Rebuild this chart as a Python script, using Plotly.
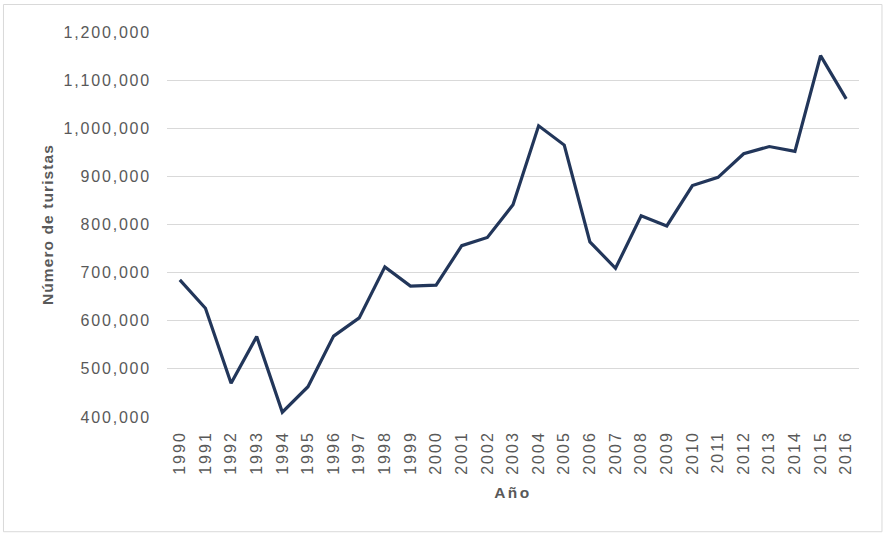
import plotly.graph_objects as go

# Annual tourist arrivals, 1990-2016
years = [str(y) for y in range(1990, 2017)]
turistas = [
    685000, 626000, 470000, 567000, 410000, 463000, 568000, 606000, 712000,
    672000, 674000, 756000, 773000, 841000, 1005000, 965000, 764000, 709000,
    818000, 797000, 881000, 898000, 947000, 962000, 952000, 1151000, 1061000,
]
y_ticks = list(range(400000, 1200001, 100000))

TEXT_GRAY = "#595959"
GRID_GRAY = "#d9d9d9"
LINE_NAVY = "#22365a"


def spaced(text, spacing):
    return f'<span style="letter-spacing:{spacing}px">{text}</span>'


fig = go.Figure()
fig.add_trace(
    go.Scatter(
        x=years,
        y=turistas,
        mode="lines",
        line=dict(color=LINE_NAVY, width=3.2),
        hoverinfo="x+y",
        showlegend=False,
    )
)

fig.update_layout(
    width=885,
    height=534,
    margin=dict(l=167, r=26, t=32, b=117),
    paper_bgcolor="white",
    plot_bgcolor="white",
    font=dict(family="Liberation Sans, Arial, sans-serif", size=16, color=TEXT_GRAY),
    shapes=[
        dict(
            type="rect",
            xref="paper",
            yref="paper",
            x0=-0.2363,
            x1=1.0332,
            y0=-0.298,
            y1=1.0714,
            line=dict(color=GRID_GRAY, width=1),
            fillcolor="rgba(0,0,0,0)",
            layer="below",
        )
    ],
)

fig.update_xaxes(
    type="category",
    range=[-0.5, len(years) - 0.5],
    tickmode="array",
    tickvals=years,
    ticktext=[spaced(y, 2.0) for y in years],
    tickangle=-90,
    ticklabelstandoff=10,
    showgrid=False,
    zeroline=False,
    showline=False,
    ticks="",
    tickfont=dict(size=16, color=TEXT_GRAY),
    title=dict(
        text=spaced("<b>Año</b>", 2.5),
        font=dict(size=15.5, color=TEXT_GRAY),
        standoff=13,
    ),
)

fig.update_yaxes(
    range=[400000, 1200000],
    tickmode="array",
    tickvals=y_ticks,
    ticktext=[spaced(f"{v:,}", 1.8) for v in y_ticks],
    showgrid=True,
    gridcolor=GRID_GRAY,
    gridwidth=1,
    zeroline=False,
    showline=False,
    ticks="",
    ticklabelstandoff=15,
    tickfont=dict(size=16, color=TEXT_GRAY),
    title=dict(
        text=spaced("<b>Número de turistas</b>", 1.1),
        font=dict(size=15.5, color=TEXT_GRAY),
        standoff=6,
    ),
)

fig.write_html("out.html")
